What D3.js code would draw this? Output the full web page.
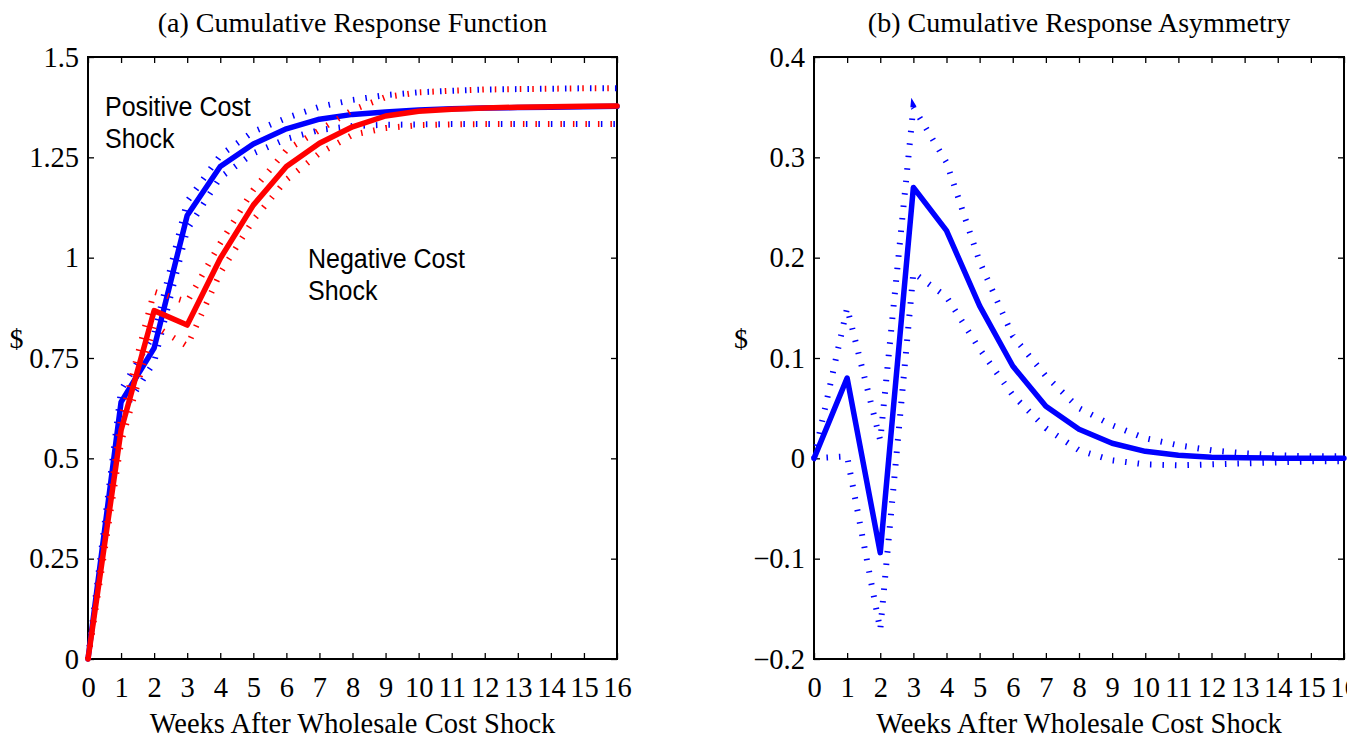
<!DOCTYPE html>
<html>
<head>
<meta charset="utf-8">
<script src="https://cdn.jsdelivr.net/npm/d3@7"></script>
<style>
  body { margin: 0; background: #fff; }
  svg { display: block; }
</style>
</head>
<body>
<svg id="chart" width="1347" height="740"></svg>
<script>
// data
const weeks = d3.range(0, 17)

const posResp = [0, 0.64, 0.775, 1.105, 1.227, 1.283, 1.321, 1.345, 1.357, 1.363, 1.368, 1.371, 1.373, 1.374, 1.375, 1.376, 1.377]
const posUpper = [0, 0.67, 0.81, 1.14, 1.255, 1.314, 1.348, 1.376, 1.393, 1.405, 1.412, 1.416, 1.419, 1.42, 1.421, 1.422, 1.422]
const posLower = [0, 0.61, 0.74, 1.07, 1.2, 1.26, 1.296, 1.318, 1.328, 1.331, 1.332, 1.333, 1.333, 1.333, 1.333, 1.333, 1.333]

const negResp = [0, 0.57, 0.868, 0.832, 0.998, 1.131, 1.227, 1.285, 1.326, 1.353, 1.365, 1.37, 1.373, 1.375, 1.376, 1.377, 1.378]
const negUpper = [0, 0.6, 0.915, 0.89, 1.036, 1.169, 1.268, 1.318, 1.368, 1.4, 1.412, 1.416, 1.419, 1.42, 1.421, 1.422, 1.422]
const negLower = [0, 0.54, 0.83, 0.78, 0.962, 1.094, 1.194, 1.26, 1.306, 1.323, 1.33, 1.332, 1.333, 1.333, 1.333, 1.333, 1.333]

const asym = [0, 0.08, -0.094, 0.27, 0.227, 0.152, 0.092, 0.052, 0.029, 0.015, 0.007, 0.003, 0.001, 0.0005, 0.0002, 0.0001, 0]
const asymUpper = [0, 0.15, 0.018, 0.35, 0.295, 0.196, 0.122, 0.082, 0.05, 0.033, 0.02, 0.013, 0.008, 0.005, 0.003, 0.002, 0.002]
const asymLower = [0, 0.002, -0.171, 0.185, 0.161, 0.109, 0.063, 0.03, 0.008, -0.002, -0.006, -0.007, -0.006, -0.005, -0.004, -0.003, -0.003]

const leftYTicks = [0, 0.25, 0.5, 0.75, 1, 1.25, 1.5]
const leftYLabels = ['0', '0.25', '0.5', '0.75', '1', '1.25', '1.5']
const rightYTicks = [-0.2, -0.1, 0, 0.1, 0.2, 0.3, 0.4]
const rightYLabels = ['\u22120.2', '\u22120.1', '0', '0.1', '0.2', '0.3', '0.4']

const serif = '"Liberation Serif", "Times New Roman", serif'
const sans = '"Liberation Sans", Arial, sans-serif'
const blue = '#0000ff'
const red = '#ff0000'

const svg = d3.select('#chart')

const drawPanel = (opts) => {
  const { left, right, top, bottom } = opts
  const x = d3.scaleLinear().domain([0, 16]).range([left, right])
  const y = d3.scaleLinear().domain(opts.yDomain).range([bottom, top])
  const g = svg.append('g')

  const styleAxis = sel => {
    sel.select('.domain').remove()
    sel.selectAll('line').attr('stroke', '#000').attr('stroke-width', 1.3)
    sel.selectAll('text').attr('font-family', serif).attr('font-size', 28.5).attr('fill', '#000')
  }

  g.append('g').attr('transform', `translate(0,${bottom})`)
    .call(d3.axisBottom(x).tickValues(weeks).tickFormat(d3.format('d')).tickSize(-6).tickSizeOuter(0).tickPadding(38))
    .call(styleAxis)
    .selectAll('text').attr('dy', 0)
  g.append('g').attr('transform', `translate(0,${top})`)
    .call(d3.axisTop(x).tickValues(weeks).tickFormat('').tickSize(-6).tickSizeOuter(0))
    .call(styleAxis)
  g.append('g').attr('transform', `translate(${left},0)`)
    .call(d3.axisLeft(y).tickValues(opts.yTicks).tickFormat((d, i) => opts.yLabels[i]).tickSize(-6).tickSizeOuter(0).tickPadding(9))
    .call(styleAxis)
  g.append('g').attr('transform', `translate(${right},0)`)
    .call(d3.axisRight(y).tickValues(opts.yTicks).tickFormat('').tickSize(-6).tickSizeOuter(0))
    .call(styleAxis)

  g.append('rect')
    .attr('x', left).attr('y', top)
    .attr('width', right - left).attr('height', bottom - top)
    .attr('fill', 'none').attr('stroke', '#000').attr('stroke-width', 2)

  const line = d3.line().x((d, i) => x(weeks[i])).y(d => y(d))

  opts.series.forEach(s => {
    s.bands.forEach(b => {
      g.append('path').datum(b)
        .attr('d', line)
        .attr('fill', 'none').attr('stroke', s.color)
        .attr('stroke-width', 6).attr('stroke-dasharray', '1.5,11')
    })
    g.append('path').datum(s.values)
      .attr('d', line)
      .attr('fill', 'none').attr('stroke', s.color)
      .attr('stroke-width', 5.5).attr('stroke-linejoin', 'round').attr('stroke-linecap', 'round')
  })

  g.append('text')
    .attr('x', (left + right) / 2).attr('y', 32)
    .attr('text-anchor', 'middle')
    .attr('font-family', serif).attr('font-size', 28)
    .text(opts.title)

  g.append('text')
    .attr('x', (left + right) / 2).attr('y', 733)
    .attr('text-anchor', 'middle')
    .attr('font-family', serif).attr('font-size', 28.5)
    .text('Weeks After Wholesale Cost Shock')

  g.append('text')
    .attr('x', opts.dollarX).attr('y', 348)
    .attr('text-anchor', 'middle')
    .attr('font-family', serif).attr('font-size', 28)
    .text('$')

  return g
}

const gA = drawPanel({
  left: 88, right: 617, top: 57, bottom: 659,
  yDomain: [0, 1.5], yTicks: leftYTicks, yLabels: leftYLabels,
  title: '(a) Cumulative Response Function',
  dollarX: 16.5,
  series: [
    { color: blue, values: posResp, bands: [posUpper, posLower] },
    { color: red, values: negResp, bands: [negUpper, negLower] }
  ]
})

const notes = [
  { lines: ['Positive Cost', 'Shock'], x: 105, y: 116 },
  { lines: ['Negative Cost', 'Shock'], x: 308, y: 268 }
]
notes.forEach(n => {
  n.lines.forEach((t, i) => {
    gA.append('text')
      .attr('transform', `translate(${n.x},${n.y + i * 32}) scale(1,1.08)`)
      .attr('font-family', sans).attr('font-size', 25)
      .text(t)
  })
})

drawPanel({
  left: 814, right: 1344, top: 57, bottom: 659,
  yDomain: [-0.2, 0.4], yTicks: rightYTicks, yLabels: rightYLabels,
  title: '(b) Cumulative Response Asymmetry',
  dollarX: 741,
  series: [
    { color: blue, values: asym, bands: [asymUpper, asymLower] }
  ]
})
</script>
</body>
</html>
